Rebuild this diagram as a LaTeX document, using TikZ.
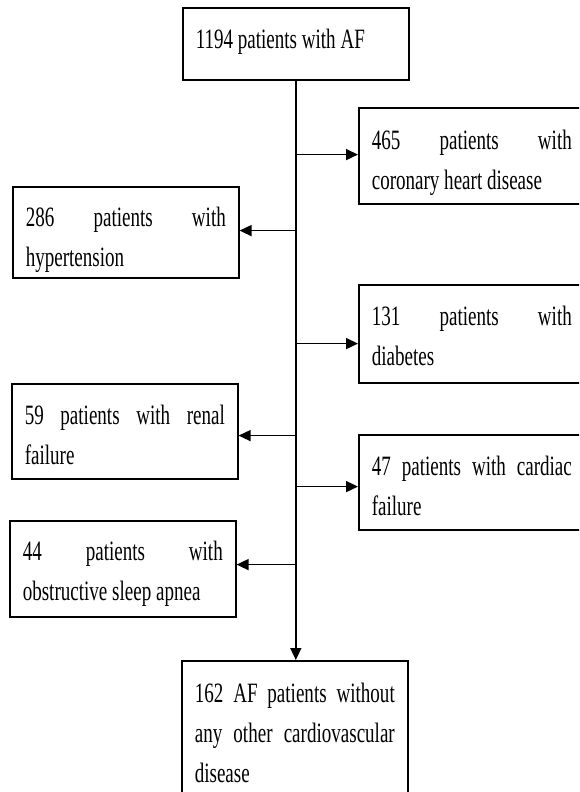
\documentclass[tikz,border=0pt]{standalone}
\usepackage{fontspec}
\setmainfont{Liberation Serif}[FakeStretch=0.68]
\usetikzlibrary{arrows.meta}
\newcommand\fl[1]{\makebox[200pt][s]{#1}}
\newcommand\bx[3]{\parbox[c][#1][t]{200pt}{\fontsize{28pt}{40pt}\selectfont\rule{0pt}{#2}#3}}
\tikzset{
  box/.style={draw=black, line width=1.6pt, inner xsep=13pt, inner ysep=0pt, anchor=north west, fill=white},
  arr/.style={draw=black, line width=1.6pt, -{Triangle[length=12pt,width=11pt]}}
}
\begin{document}
\begin{tikzpicture}[x=1pt,y=-1pt]
\clip (0,0) rectangle (579,792);
\fill[white] (0,0) rectangle (579,792);
\node[box] (top) at (182,7) {\bx{72pt}{41pt}{1194 patients with AF}};
\node[box] (chd) at (358,107) {\bx{96pt}{42pt}{\fl{465 patients with}\\coronary heart disease}};
\node[box] (hyp) at (12,186) {\bx{91pt}{40pt}{\fl{286 patients with}\\hypertension}};
\node[box] (dia) at (358,284) {\bx{98pt}{41pt}{\fl{131 patients with}\\diabetes}};
\node[box] (ren) at (11,383) {\bx{95pt}{41pt}{\fl{59 patients with renal}\\failure}};
\node[box] (car) at (358,434) {\bx{95pt}{41pt}{\fl{47 patients with cardiac}\\failure}};
\node[box] (osa) at (9,520) {\bx{96pt}{40pt}{\fl{44 patients with}\\obstructive sleep apnea}};
\node[box] (bot) at (181,660) {\bx{140pt}{42pt}{\fl{162 AF patients without}\\\fl{any other cardiovascular}\\disease}};
\coordinate (j1) at ([yshift=-74pt]top.south);
\coordinate (j2) at ([yshift=-150pt]top.south);
\coordinate (j3) at ([yshift=-263pt]top.south);
\coordinate (j4) at ([yshift=-355pt]top.south);
\coordinate (j5) at ([yshift=-406pt]top.south);
\coordinate (j6) at ([yshift=-484pt]top.south);
\draw[arr] (top.south) -- (top.south |- bot.north);
\draw[arr] (j1) -- (j1 -| chd.west);
\draw[arr] (j2) -- (j2 -| hyp.east);
\draw[arr] (j3) -- (j3 -| dia.west);
\draw[arr] (j4) -- (j4 -| ren.east);
\draw[arr] (j5) -- (j5 -| car.west);
\draw[arr] (j6) -- (j6 -| osa.east);
\end{tikzpicture}
\end{document}
